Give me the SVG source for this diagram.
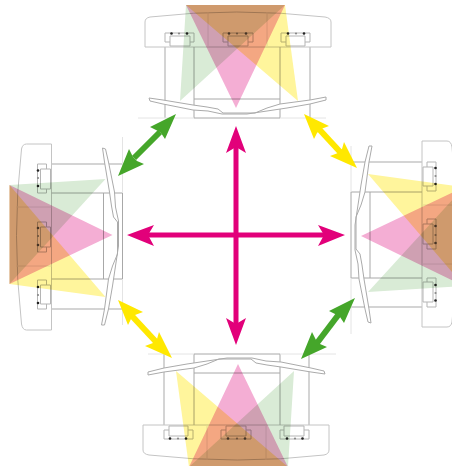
<svg xmlns="http://www.w3.org/2000/svg" width="452" height="466" viewBox="0 0 452 466">
<style>
.l{fill:none;stroke:#c4c4c4;stroke-width:1}
.g{fill:none;stroke:#c6c6c6;stroke-width:1.500}
.d{fill:none;stroke:#a8a8a8;stroke-width:1}
.f{fill:none;stroke:#e4e4e4;stroke-width:1}
.m{fill:#fff;stroke:#b5b5b5;stroke-width:1}
.t{mix-blend-mode:multiply}
.mg{stroke:#e2007a;stroke-width:5;fill:none}
.gr{stroke:#45a62a;stroke-width:6;fill:none}
.ye{stroke:#ffe800;stroke-width:6;fill:none}
</style>
<defs>
<g id="vehicle" transform="translate(-237,-236)">
<path class="l" d="M145 47V22Q145 18 150 17Q236 7 325 17Q331 18 331 22V47Z"/>
<path class="f" d="M208 12V47M267 12V47"/>
<path class="g" d="M165 47V118M310 47V118"/>
<path class="d" d="M194 47V118M280 47V118M194 99H280M194 118H280"/>
<path class="f" d="M138 118H194M280 118H326"/>
<path class="m" d="M165 33H194V42H165Z"/><path class="m" d="M170 36H190V46H170Z"/>
<path class="m" d="M223 33H253V42H223Z"/><path class="m" d="M228 36H248V46H228Z"/>
<path class="m" d="M281 33H310V42H281Z"/><path class="m" d="M286 36H305V46H286Z"/>
<circle cx="171.500" cy="33.500" r="1.300" fill="#222"/><circle cx="179" cy="33.500" r="1.100" fill="#888"/><circle cx="187" cy="33.500" r="1.300" fill="#222"/>
<circle cx="229" cy="33.500" r="1.300" fill="#555"/><circle cx="237" cy="33.500" r="1.100" fill="#888"/><circle cx="246" cy="33.500" r="1.300" fill="#555"/>
<circle cx="288" cy="33.500" r="1.300" fill="#222"/><circle cx="296" cy="33.500" r="1.100" fill="#888"/><circle cx="304" cy="33.500" r="1.300" fill="#222"/>
<path fill="#fff" stroke="#aaa" stroke-width="1" d="M149 98L163 100L193 105L207 107L218 109L223 113H255L267 108L280 104L310 100L326 97V100L310 104L287 108L267 111L247 114H222L208 111L193 110L163 104L150 101Z"/>
<path class="t" fill="#d9ebd6" d="M180 101L186 5H285Z"/>
<path class="t" fill="#f4aed4" d="M236 108L186 5H285Z"/>
<path class="t" fill="#fff59c" d="M298 101L186 5H285Z"/>
</g>
</defs>
<g id="vehicle-top"><use href="#vehicle" transform="translate(237,236)"/></g>
<g id="vehicle-left"><use href="#vehicle" transform="matrix(0,1,1,0,240.500,236)"/></g>
<g id="vehicle-right"><use href="#vehicle" transform="matrix(0,-1,-1,0,233,235)"/></g>
<g id="vehicle-bottom"><use href="#vehicle" transform="rotate(180 237 236) translate(237,236)"/></g>
<g id="connectors">
<path class="mg" d="M236 145V327M146 235H326"/>
<path fill="#e2007a" d="M236 126L246 153L236 147L226 153ZM236 345L246 318L236 324L226 318ZM127 235L154 225L148 235L154 246ZM345 235L318 225L324 235L318 246Z"/>
<path class="gr" d="M160 132L134 158"/>
<path fill="#45a62a" d="M176 114L150 127L158 131L161 133L165 139ZM118 176L129 149L133 157L137 161L144 164Z"/>
<path class="ye" d="M318 128L342 154"/>
<path fill="#ffe800" d="M304 114L329 126L321 129L317 133L314 139ZM357 168L330 156L338 153L342 149L344 142Z"/>
<path class="ye" d="M132 316L158 344"/>
<path fill="#ffe800" d="M118 300L143 312L135 315L131 319L128 325ZM172 358L145 346L153 343L157 339L159 332Z"/>
<path class="gr" d="M339 314L317 343"/>
<path fill="#45a62a" d="M355 298L329 311L337 315L340 317L344 323ZM301 359L312 332L316 340L320 344L327 347Z"/>
</g>
</svg>
